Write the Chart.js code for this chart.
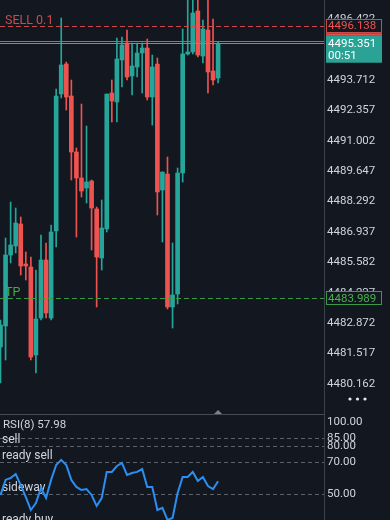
<!DOCTYPE html>
<html lang="en">
<head>
<meta charset="UTF-8">
<script src="https://cdn.jsdelivr.net/npm/chart.js@4.4.1/dist/chart.umd.min.js"></script>
<title>XAUUSD M1</title>
<style>
  html, body { margin: 0; padding: 0; background: #121720; }
  body { width: 390px; height: 520px; position: relative; overflow: hidden; }
  #priceChart { position: absolute; left: 0; top: 0; }
  #rsiChart { position: absolute; left: 0; top: 414px; }
</style>
</head>
<body>
<canvas id="priceChart" width="390" height="414"></canvas>
<canvas id="rsiChart" width="390" height="106"></canvas>
<script>
// candles, oldest first
const opens  = [4481.811, 4482.747, 4485.912, 4486.313, 4487.294, 4485.511, 4485.377, 4481.455, 4483.104, 4485.689,
                4483.104, 4486.982, 4493.088, 4494.425, 4492.999, 4490.503, 4489.344, 4488.898, 4489.210, 4487.962,
                4485.778, 4487.071, 4493.133, 4492.732, 4494.604, 4495.361, 4493.890, 4494.292, 4494.916, 4495.138,
                4492.954, 4494.425, 4488.809, 4489.522, 4483.594, 4484.174, 4489.567, 4494.871, 4494.960, 4496.788,
                4494.782, 4495.941, 4494.113, 4493.801];
const highs  = [4483.015, 4486.670, 4488.274, 4488.007, 4487.606, 4486.046, 4485.823, 4485.243, 4486.803, 4486.447,
                4487.249, 4493.311, 4496.476, 4494.514, 4493.712, 4490.681, 4492.642, 4491.662, 4489.255, 4488.051,
                4488.363, 4493.088, 4493.712, 4495.584, 4495.629, 4495.941, 4495.361, 4495.361, 4495.361, 4495.540,
                4494.826, 4494.693, 4489.611, 4490.280, 4486.447, 4489.790, 4495.985, 4497.635, 4497.500, 4497.500,
                4496.387, 4497.350, 4496.431, 4495.406];
const lows   = [4480.207, 4481.232, 4485.555, 4486.001, 4485.020, 4484.798, 4481.232, 4480.652, 4483.015, 4483.104,
                4483.015, 4486.268, 4492.910, 4492.375, 4489.255, 4486.714, 4488.497, 4488.230, 4486.135, 4483.594,
                4485.243, 4486.937, 4491.840, 4491.840, 4493.400, 4493.712, 4493.044, 4493.846, 4493.133, 4492.821,
                4491.706, 4487.695, 4486.491, 4483.505, 4482.658, 4483.728, 4489.166, 4494.826, 4494.871, 4494.737,
                4494.470, 4493.133, 4493.489, 4493.578];
const closes = [4482.792, 4485.912, 4486.358, 4487.338, 4485.422, 4485.422, 4481.365, 4483.059, 4485.689, 4483.327,
                4486.937, 4492.999, 4494.381, 4492.954, 4490.503, 4489.344, 4488.765, 4489.166, 4488.007, 4485.823,
                4487.115, 4493.088, 4492.776, 4494.648, 4495.272, 4493.846, 4494.336, 4494.916, 4495.138, 4492.954,
                4494.292, 4488.720, 4489.611, 4483.594, 4484.129, 4489.567, 4494.871, 4494.960, 4496.699, 4494.826,
                4495.985, 4494.069, 4493.712, 4495.351];

const rsiValues = [49.4, 58.8, 60, 62.5, 55.6, 48.1, 40, 44.4, 53.8, 47.5,
                   58.8, 68.1, 71.3, 68.1, 58.8, 54.4, 52.5, 53.1, 49.4, 42.5,
                   47.5, 63.8, 63.8, 67.5, 69.4, 61.9, 63.1, 63.8, 65.6, 54.4,
                   54.4, 40, 41.3, 33.8, 35, 50.6, 60.6, 60.6, 63.8, 58.1,
                   60.6, 55, 53.1, 57.98];

const priceTicks = [4496.422, 4495.067, 4493.712, 4492.357, 4491.002, 4489.647, 4488.292,
                    4486.937, 4485.582, 4484.227, 4482.872, 4481.517, 4480.162];
const rsiTicks = [100, 85, 80, 70, 50];
const rsiLevels = [85, 80, 70, 50, 30];
const rsiLevelNames = ['', 'sell', 'ready sell', 'sideway', 'ready buy'];

const sellPrice = 4496.138;
const askPrice = 4495.451;
const bidPrice = 4495.351;
const tpPrice = 4483.989;
const barTimer = '00:51';

const UP = '#26a69a';
const DOWN = '#ef5350';
const TEXT = '#d1d4dc';
const AXIS_LINE = '#3b414d';
const FONT = 'Roboto, "DejaVu Sans", sans-serif';

const xMin = -0.1, xMax = 63.93;

const candleColors = opens.map((o, i) => closes[i] >= o ? UP : DOWN);

function fixAxis(scale) {
  scale.width = 66;
  scale.paddingTop = 0;
  scale.paddingBottom = 0;
}

const priceOverlay = {
  id: 'priceOverlay',
  afterDraw(chart) {
    const ctx = chart.ctx;
    const y = chart.scales.y;
    const area = chart.chartArea;
    ctx.save();

    // trade lines
    function hline(price, color, dash) {
      const py = Math.round(y.getPixelForValue(price)) + 0.5;
      ctx.strokeStyle = color;
      ctx.lineWidth = 1;
      ctx.setLineDash(dash);
      ctx.beginPath();
      ctx.moveTo(area.left, py);
      ctx.lineTo(area.right, py);
      ctx.stroke();
      return py;
    }
    const sellY = hline(sellPrice, '#c94b4c', [5, 3]);
    hline(askPrice, '#d9534f', []);
    hline(bidPrice, '#2fb0a0', []);
    const tpY = hline(tpPrice, '#3b9a47', [5, 3]);
    ctx.setLineDash([]);

    ctx.font = '12.5px ' + FONT;
    ctx.textBaseline = 'alphabetic';
    ctx.textAlign = 'left';
    ctx.fillStyle = '#cc4b4b';
    ctx.fillText('SELL 0.1', 5, sellY - 2.5);
    ctx.fillStyle = '#43a84e';
    ctx.fillText('TP', 5, tpY - 3);

    // price boxes on the axis
    ctx.font = '11.5px ' + FONT;
    ctx.textBaseline = 'middle';
    const bx = area.right + 2;

    let py = y.getPixelForValue(sellPrice);
    ctx.fillStyle = '#121720';
    ctx.fillRect(bx, py - 7, 56, 14);
    ctx.strokeStyle = '#c94b4c';
    ctx.strokeRect(bx + 0.5, Math.round(py - 7) + 0.5, 55, 13);
    ctx.fillStyle = '#ef5350';
    ctx.fillText(sellPrice.toFixed(3), bx + 2, py + 0.5);

    py = y.getPixelForValue(bidPrice);
    ctx.fillStyle = '#d9534f';
    ctx.fillRect(bx, py - 10, 56, 2);
    ctx.fillStyle = '#2aa396';
    ctx.fillRect(bx, py - 8, 56, 27.5);
    ctx.fillStyle = '#ffffff';
    ctx.fillText(bidPrice.toFixed(3), bx + 2, py + 0.5);
    ctx.fillText(barTimer, bx + 2, py + 13);

    py = y.getPixelForValue(tpPrice);
    ctx.fillStyle = '#121720';
    ctx.fillRect(bx, py - 7, 56, 14);
    ctx.strokeStyle = '#3b9a47';
    ctx.strokeRect(bx + 0.5, Math.round(py - 7) + 0.5, 55, 13);
    ctx.fillStyle = '#4caf50';
    ctx.fillText(tpPrice.toFixed(3), bx + 2, py + 0.5);

    // marker under the last bar
    const lastX = chart.scales.x.getPixelForValue(opens.length - 1);
    ctx.fillStyle = '#7d828c';
    ctx.beginPath();
    ctx.moveTo(lastX, area.bottom - 4);
    ctx.lineTo(lastX - 4, area.bottom);
    ctx.lineTo(lastX + 4, area.bottom);
    ctx.closePath();
    ctx.fill();

    // menu dots
    ctx.fillStyle = '#e8e9ec';
    [350, 357.5, 365].forEach(dx => {
      ctx.beginPath();
      ctx.arc(dx, 399, 1.6, 0, Math.PI * 2);
      ctx.fill();
    });
    ctx.restore();
  }
};

new Chart(document.getElementById('priceChart'), {
  type: 'bar',
  data: {
    datasets: [
      {
        label: 'wick',
        data: opens.map((o, i) => ({ x: i, y: [lows[i], highs[i]] })),
        backgroundColor: candleColors,
        barThickness: 1,
        grouped: false,
        order: 2
      },
      {
        label: 'body',
        data: opens.map((o, i) => ({ x: i, y: [o, closes[i]] })),
        backgroundColor: candleColors,
        barThickness: 4,
        minBarLength: 1,
        grouped: false,
        order: 1
      }
    ]
  },
  options: {
    responsive: false,
    animation: false,
    layout: { padding: 0 },
    plugins: { legend: { display: false }, tooltip: { enabled: false } },
    scales: {
      x: { type: 'linear', min: xMin, max: xMax, offset: false, display: false },
      y: {
        position: 'right',
        min: 4478.825,
        max: 4497.278,
        beginAtZero: false,
        grid: { display: false, drawTicks: false },
        border: { display: true, color: AXIS_LINE, width: 1 },
        ticks: {
          color: TEXT,
          padding: 3,
          font: { family: FONT, size: 11.5 },
          callback: v => Number(v).toFixed(3)
        },
        afterBuildTicks: scale => { scale.ticks = priceTicks.map(v => ({ value: v })); },
        afterFit: fixAxis
      }
    }
  },
  plugins: [priceOverlay]
});

const rsiOverlay = {
  id: 'rsiOverlay',
  beforeDatasetsDraw(chart) {
    const ctx = chart.ctx;
    const y = chart.scales.y;
    const area = chart.chartArea;
    ctx.save();
    ctx.strokeStyle = '#5c616b';
    ctx.lineWidth = 1;
    ctx.setLineDash([4, 3]);
    rsiLevels.forEach(v => {
      const py = Math.round(y.getPixelForValue(v)) + 0.5;
      ctx.beginPath();
      ctx.moveTo(area.left, py);
      ctx.lineTo(area.right, py);
      ctx.stroke();
    });
    ctx.setLineDash([]);
    // panel separator
    ctx.strokeStyle = '#464c58';
    ctx.beginPath();
    ctx.moveTo(area.left, 0.5);
    ctx.lineTo(area.right, 0.5);
    ctx.stroke();

    ctx.font = '12px ' + FONT;
    ctx.fillStyle = TEXT;
    ctx.textAlign = 'left';
    ctx.textBaseline = 'alphabetic';
    rsiLevels.forEach((v, k) => {
      if (rsiLevelNames[k]) ctx.fillText(rsiLevelNames[k], 2, y.getPixelForValue(v) - 3);
    });
    ctx.font = '11.5px ' + FONT;
    ctx.fillText('RSI(8) ' + rsiValues[rsiValues.length - 1].toFixed(2), 3, 14);
    ctx.restore();
  },
  afterDraw(chart) {
    const ctx = chart.ctx;
    const y = chart.scales.y;
    ctx.save();
    ctx.font = '11.5px ' + FONT;
    ctx.fillStyle = TEXT;
    ctx.textAlign = 'left';
    ctx.textBaseline = 'middle';
    rsiTicks.forEach(v => {
      const py = Math.max(y.getPixelForValue(v), chart.chartArea.top + 8);
      ctx.fillText(v.toFixed(2), y.left + 3, py);
    });
    ctx.restore();
  }
};

new Chart(document.getElementById('rsiChart'), {
  type: 'line',
  data: {
    datasets: [{
      label: 'RSI(8)',
      data: rsiValues.map((v, i) => ({ x: i, y: v })),
      borderColor: '#2b8ef0',
      borderWidth: 2,
      pointRadius: 0,
      tension: 0,
      fill: false
    }]
  },
  options: {
    responsive: false,
    animation: false,
    layout: { padding: 0 },
    plugins: { legend: { display: false }, tooltip: { enabled: false } },
    scales: {
      x: { type: 'linear', min: xMin, max: xMax, display: false },
      y: {
        position: 'right',
        min: 33.75,
        max: 100,
        grid: { display: false, drawTicks: false },
        border: { display: true, color: AXIS_LINE, width: 1 },
        ticks: { display: false },
        afterFit: fixAxis
      }
    }
  },
  plugins: [rsiOverlay]
});
</script>
</body>
</html>
